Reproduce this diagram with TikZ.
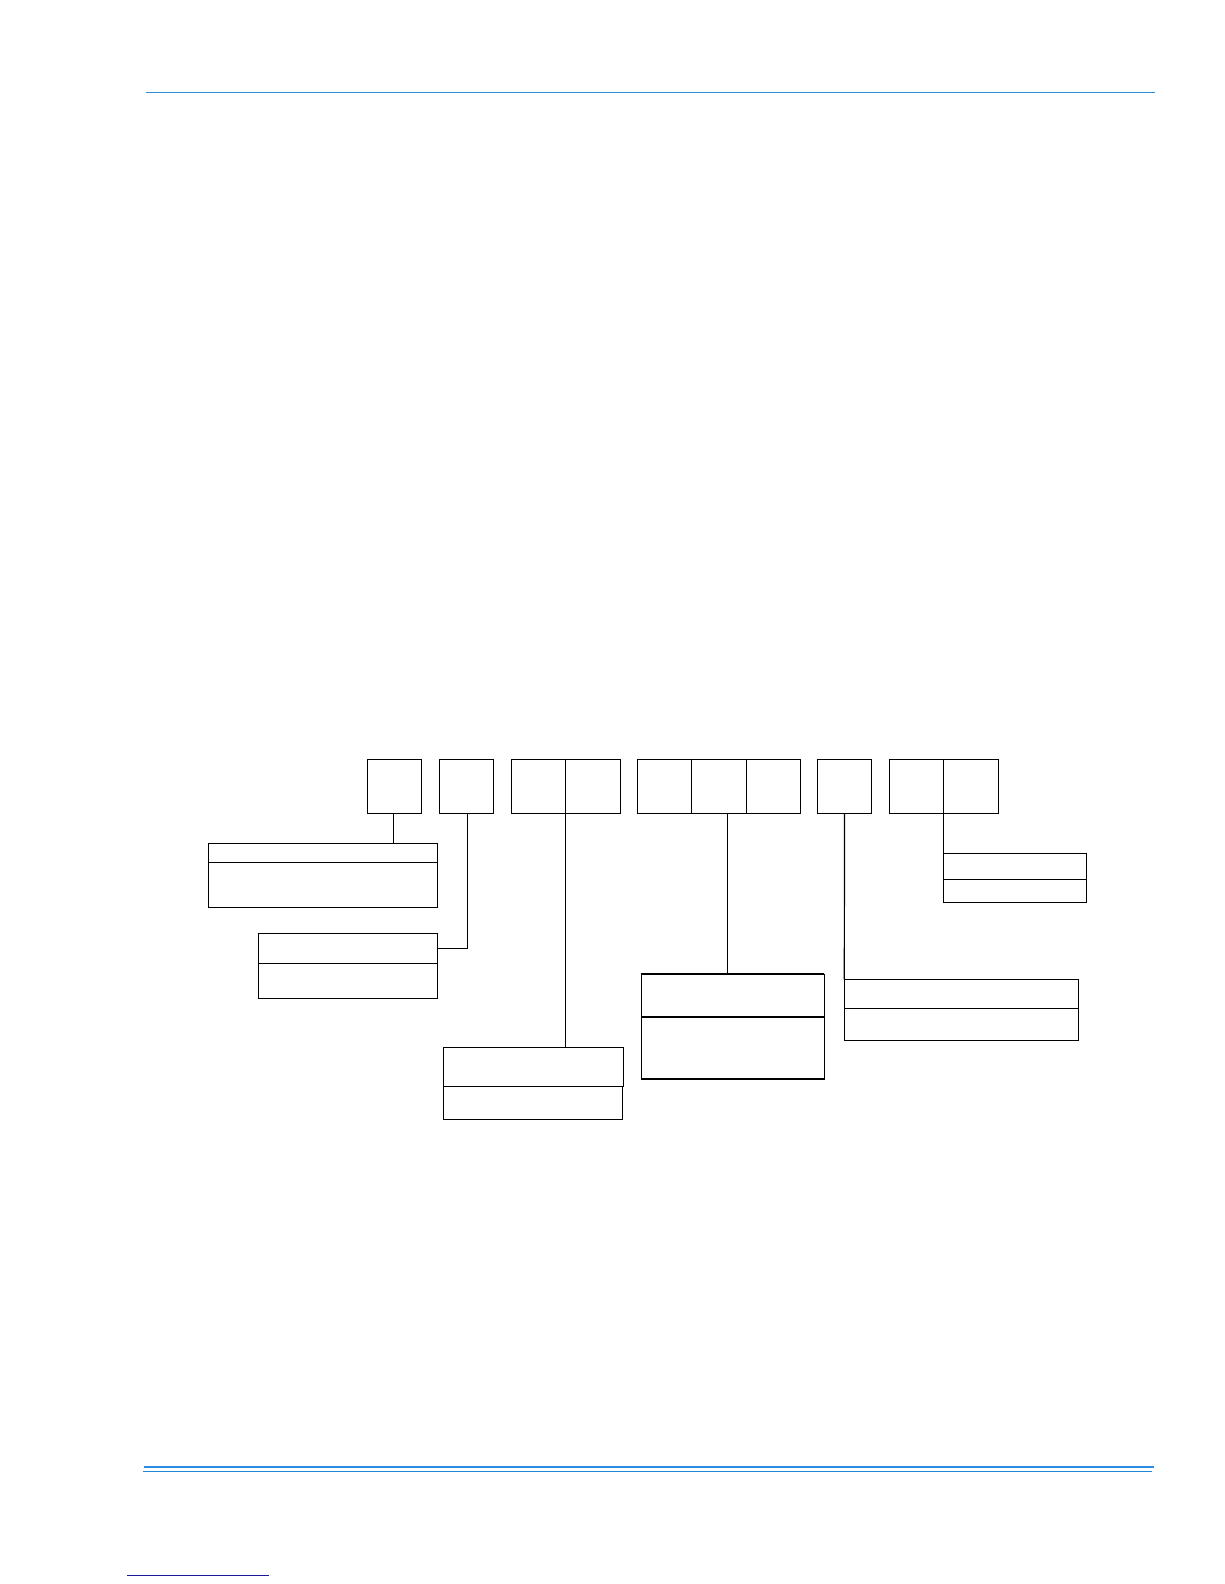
\documentclass[tikz,border=0pt]{standalone}
\begin{document}
\begin{tikzpicture}[x=1pt,y=-1pt,
  cell/.style={draw=black,line width=1.2pt,rectangle,anchor=north west,inner sep=0pt,outer sep=0pt,minimum width=54.4pt,minimum height=54pt},
  lab/.style={draw=black,line width=1.2pt,rectangle,anchor=north west,inner sep=0pt,outer sep=0pt},
  conn/.style={draw=black,line width=1.2pt},
  hdr/.style={draw={rgb,255:red,45;green,140;blue,215},line width=1.4pt}]
\useasboundingbox (0,0) rectangle (1224,1584);
% rules
\coordinate (h1) at (146,92.3); \coordinate (h2) at (1155,92.3);
\draw[hdr] (h1) -- (h2);
\coordinate (f1) at (144,1466.7); \coordinate (f2) at (1153.7,1466.7);
\draw[draw={rgb,255:red,42;green,138;blue,230},line width=2.2pt] (f1) -- (f2);
\coordinate (g1) at (143,1471.3); \coordinate (g2) at (1152,1471.3);
\draw[draw={rgb,255:red,31;green,136;blue,216},line width=1.2pt] (g1) -- (g2);
\coordinate (k1) at (127,1575); \coordinate (k2) at (269,1575);
\draw[draw={rgb,255:red,26;green,26;blue,154},line width=1pt] (k1) -- (k2);
% top cells
\node[cell] (b1) at (367.3,759.3) {};
\node[cell] (b2) at (439.3,759.3) {};
\node[cell] (b3a) at (511.3,759.3) {};
\node[cell] (b3b) at (565.7,759.3) {};
\node[cell] (b4a) at (637.3,759.3) {};
\node[cell] (b4b) at (691.7,759.3) {};
\node[cell] (b4c) at (746.1,759.3) {};
\node[cell] (b5) at (817.3,759.3) {};
\node[cell] (b6a) at (889.3,759.3) {};
\node[cell] (b6b) at (943.7,759.3) {};
% label boxes
\node[lab,minimum width=229.4pt,minimum height=19pt] (A1) at (208.3,843.3) {};
\node[lab,minimum width=229.4pt,minimum height=45pt] (A2) at (208.3,862.3) {};
\node[lab,minimum width=179.4pt,minimum height=30pt] (B1) at (258.3,933.3) {};
\node[lab,minimum width=179.4pt,minimum height=35pt] (B2) at (258.3,963.3) {};
\node[lab,minimum width=180pt,minimum height=39pt] (C1) at (443.3,1047.3) {};
\node[lab,minimum width=179pt,minimum height=33pt] (C2) at (443.3,1086.3) {};
\node[lab,minimum width=183pt,minimum height=42.7pt] (D1) at (641.3,974.3) {};
\node[lab,minimum width=183pt,minimum height=62pt] (D2) at (641.3,1017) {};
\draw[line width=2pt] (D1.north west) -- (D1.north east);
\draw[line width=2pt] (D2.south west) -- (D2.south east);
\node[lab,minimum width=234.4pt,minimum height=29pt] (E1) at (844.3,979.3) {};
\node[lab,minimum width=234.4pt,minimum height=32pt] (E2) at (844.3,1008.3) {};
\node[lab,minimum width=143pt,minimum height=26pt] (F1) at (943.7,853.3) {};
\node[lab,minimum width=143pt,minimum height=23pt] (F2) at (943.7,879.3) {};
% connectors
\coordinate (c1) at (393.3,813.3);
\draw[conn] (c1) -- (c1 |- A1.north);
\coordinate (c2) at (467.3,813.3);
\draw[conn] (c2) |- (B1.east);
\draw[conn] (b3a.south east) -- (b3a.south east |- C1.north);
\coordinate (c4) at (727.3,813.3);
\draw[conn] (c4) -- (c4 |- D1.north);
\draw[conn] (b5.south) -- (E1.north west);
\draw[conn] (b6a.south east) -- (F1.north west);
\end{tikzpicture}
\end{document}
